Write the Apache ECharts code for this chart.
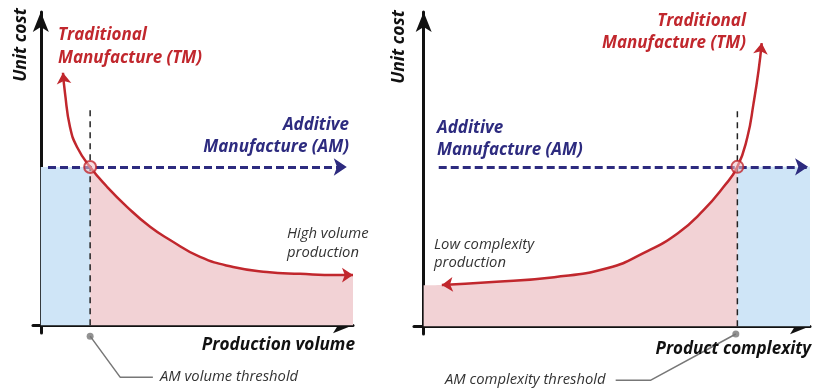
<!DOCTYPE html>
<html>
<head>
<meta charset="utf-8">
<script src="https://cdn.jsdelivr.net/npm/echarts@6/dist/echarts.min.js"></script>
<style>
  html, body { margin: 0; padding: 0; background: #fff; }
  #chart { width: 813px; height: 389px; }
</style>
</head>
<body>
<div id="chart"></div>
<script>
// values (axes run -2.5..100, arbitrary units)
var volumeCurve = [[7.1, 80.6], [7.75, 74.1], [9.35, 63.3], [11.6, 56.9], [15.8, 50.5], [21.2, 44.2], [27.6, 37.8],
                   [35.0, 31.4], [41.4, 27.2], [51.0, 21.8], [61.6, 18.6], [72.4, 17.0], [83.0, 16.4],
                   [94.9, 16.0], [100, 16.0]];
var volumeThreshold = 15.8;
var volumeAmCost = 50.5;
var volumeLeader = [[15.8, -3.5], [25.4, -16.6], [35.9, -16.6]];

var complexityCurve = [[4.7, 13.1], [16.8, 14.0], [33.8, 15.6], [47.7, 18.5], [57.0, 23.3], [65.8, 29.6],
                       [72.5, 37.0], [77.6, 44.3], [81.2, 50.7], [83.8, 60.2], [85.4, 71.0], [86.7, 81.5],
                       [87.5, 90.1]];
var complexityFillStart = [0, 13.0];
var complexityThreshold = 81.2;
var complexityAmCost = 50.7;
var complexityLeader = [[80.8, -2.5], [58.8, -17.2], [49.7, -17.2]];

var thresholdTop = 69.4;

var RED = '#c1272d';
var NAVY = '#2d2b7f';
var PINK = '#f2d2d5';
var BLUE = '#cfe5f7';

var dom = document.getElementById('chart');
var chart = echarts.init(dom);

function axes(idx) {
  var base = {
    type: 'value', gridIndex: idx, min: -2.5, max: 100,
    axisLabel: {show: false}, axisTick: {show: false}, splitLine: {show: false},
    axisLine: {show: true, onZero: true, symbol: ['none', 'arrow'], symbolSize: [12, 20],
               lineStyle: {color: '#111', width: 3}}
  };
  return base;
}

function panelSeries(idx, curve, fill, threshold, amCost, amFrom, amTo, blueBox, leader, arrows) {
  return [
    { // pink fill under the TM curve, blue AM box as markArea
      type: 'line', xAxisIndex: idx, yAxisIndex: idx, data: fill, smooth: 0.5,
      symbol: 'none', lineStyle: {width: 0}, areaStyle: {color: PINK, opacity: 1}, z: 1,
      markArea: {silent: true, itemStyle: {color: BLUE, opacity: 1}, data: [blueBox]}
    },
    { // threshold
      type: 'line', xAxisIndex: idx, yAxisIndex: idx, data: [[threshold, 0], [threshold, thresholdTop]],
      symbol: 'none', lineStyle: {color: '#222', width: 1.5, type: [6, 5]}, z: 3
    },
    { // leader to the threshold caption
      type: 'line', xAxisIndex: idx, yAxisIndex: idx, data: leader, clip: false,
      symbol: 'none', lineStyle: {color: '#777', width: 1.5}, z: 3
    },
    {
      type: 'scatter', xAxisIndex: idx, yAxisIndex: idx, data: [leader[0]], clip: false,
      symbolSize: 7, itemStyle: {color: '#777'}, z: 4
    },
    { // AM cost
      type: 'lines', coordinateSystem: 'cartesian2d', xAxisIndex: idx, yAxisIndex: idx,
      data: [{coords: [[amFrom, amCost], [amTo, amCost]]}],
      symbol: ['none', 'arrow'], symbolSize: 13,
      lineStyle: {color: NAVY, width: 3, type: [8, 4], opacity: 1}, z: 4
    },
    { // TM cost curve
      type: 'line', xAxisIndex: idx, yAxisIndex: idx, data: curve, smooth: 0.5,
      symbol: 'none', lineStyle: {color: RED, width: 2.5}, z: 5
    },
    {
      type: 'lines', coordinateSystem: 'cartesian2d', xAxisIndex: idx, yAxisIndex: idx,
      data: arrows.map(function (a) { return {coords: a}; }),
      symbol: ['none', 'arrow'], symbolSize: 11,
      lineStyle: {color: RED, width: 0, opacity: 1}, z: 5
    },
    { // crossing point
      type: 'scatter', xAxisIndex: idx, yAxisIndex: idx, data: [[threshold, amCost]],
      symbolSize: 12, itemStyle: {color: 'rgba(240,195,200,0.7)', borderColor: RED, borderWidth: 2}, z: 6
    }
  ];
}

var volumeFill = volumeCurve.filter(function (p) { return p[0] >= volumeThreshold; });
var complexityFill = [complexityFillStart].concat(complexityCurve.filter(function (p) { return p[0] <= complexityThreshold; }));
var nVol = volumeCurve.length;
var nCpx = complexityCurve.length;

var series = [].concat(
  panelSeries(0, volumeCurve, volumeFill, volumeThreshold, volumeAmCost, 2.3, 98,
    [{xAxis: 0, yAxis: 0}, {xAxis: volumeThreshold, yAxis: volumeAmCost}],
    volumeLeader,
    [[volumeCurve[1], volumeCurve[0]], [volumeCurve[nVol - 2], volumeCurve[nVol - 1]]]),
  panelSeries(1, complexityCurve, complexityFill, complexityThreshold, complexityAmCost, 3.9, 99.5,
    [{xAxis: complexityThreshold, yAxis: 0}, {xAxis: 100, yAxis: complexityAmCost}],
    complexityLeader,
    [[complexityCurve[1], complexityCurve[0]], [complexityCurve[nCpx - 2], complexityCurve[nCpx - 1]]])
);

var FONT = '"Open Sans", "Noto Sans", sans-serif';
function txt(text, x, y, size, weight, color, align, rot) {
  return {
    type: 'text', x: x, y: y, rotation: rot || 0, z: 10,
    style: {text: text, fill: color, textAlign: align, textVerticalAlign: 'middle',
            font: 'italic ' + weight + ' ' + size + 'px ' + FONT}
  };
}

var mapOption = {
  backgroundColor: '#fff',
  animation: false,
  grid: [
    {left: 33, top: 12, width: 320, height: 321},
    {left: 414, top: 12, width: 396, height: 322}
  ],
  xAxis: [axes(0), axes(1)],
  yAxis: [axes(0), axes(1)],
  series: series,
  graphic: [
    txt('Unit cost', 21, 45, 17.5, 'bold', '#111', 'center', Math.PI / 2),
    txt('Traditional', 58, 35, 17, 'bold', RED, 'left'),
    txt('Manufacture (TM)', 58, 58, 17, 'bold', RED, 'left'),
    txt('Additive', 349, 125, 17, 'bold', NAVY, 'right'),
    txt('Manufacture (AM)', 349, 147, 17, 'bold', NAVY, 'right'),
    txt('High volume', 287, 234, 14.8, 'normal', '#333', 'left'),
    txt('production', 287, 253, 14.8, 'normal', '#333', 'left'),
    txt('Production volume', 355, 345, 17.2, 'bold', '#111', 'right'),
    txt('AM volume threshold', 160, 377, 14.8, 'normal', '#333', 'left'),

    txt('Unit cost', 399, 47, 17.5, 'bold', '#111', 'center', Math.PI / 2),
    txt('Traditional', 746, 21, 17, 'bold', RED, 'right'),
    txt('Manufacture (TM)', 746, 43, 17, 'bold', RED, 'right'),
    txt('Additive', 437, 128, 17, 'bold', NAVY, 'left'),
    txt('Manufacture (AM)', 437, 150, 17, 'bold', NAVY, 'left'),
    txt('Low complexity', 434, 245, 14.8, 'normal', '#333', 'left'),
    txt('production', 434, 263, 14.8, 'normal', '#333', 'left'),
    txt('Product complexity', 811, 349, 17, 'bold', '#111', 'right'),
    txt('AM complexity threshold', 445, 380, 14.8, 'normal', '#333', 'left')
  ]
};

chart.setOption(mapOption);
</script>
</body>
</html>
